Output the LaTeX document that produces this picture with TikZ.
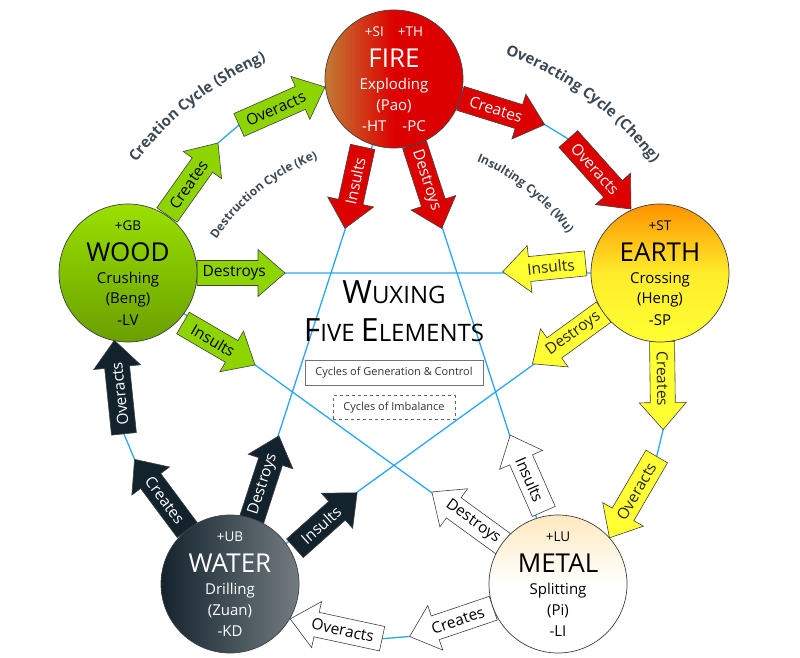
\documentclass[tikz,border=0pt]{standalone}
\usepackage{fontspec}
\setmainfont{Open Sans}
\usetikzlibrary{calc,decorations.text}
\definecolor{blu}{HTML}{2AA6F5}
\definecolor{lab}{HTML}{3B4A55}
\definecolor{woodc}{HTML}{8ED400}
\definecolor{firec}{HTML}{DD0000}
\definecolor{earthc}{HTML}{FFFF33}
\definecolor{waterc}{HTML}{13232D}
\newcommand\barrow[5]{%
  \coordinate (hh) at ($#3!27pt!#2$);
  \draw[#1] ($#2!12.5pt!90:#3$) -- ($(hh)!12.5pt!90:#3$) -- ($(hh)!23.5pt!90:#3$) -- #3
    -- ($(hh)!23.5pt!-90:#3$) -- ($(hh)!12.5pt!-90:#3$) -- ($#2!12.5pt!-90:#3$) -- cycle;
  \path #2 -- ($(hh)!0.5!#3$) node[midway,sloped,allow upside down,arrlab,#4]{#5};}
\newcommand\rc[3]{\coordinate (#1) at ($(O)!1!#2:#3$);}
\newcommand\elemarrows[6]{%
  \rc{c1}{#1}{(167,-215)}\rc{c2}{#1}{(218,-143)}%
  \rc{c3}{#1}{(239,-125)}\rc{c4}{#1}{(325,-87)}%
  \rc{c5}{#1}{(197,-273)}\rc{c6}{#1}{(285,-273)}%
  \rc{c7}{#1}{(183,-323)}\rc{c8}{#1}{(255,-365)}%
  \barrow{#2A}{(c1)}{(c2)}{#2T,#3}{Creates}
  \barrow{#2A}{(c3)}{(c4)}{#2T,#4}{Overacts}
  \barrow{#2A}{(c5)}{(c6)}{#2T,#5}{Destroys}
  \barrow{#2A}{(c7)}{(c8)}{#2T,#6}{Insults}}
\newcommand\linkseg[1]{\rc{l1}{#1}{(218,-143)}\rc{l2}{#1}{(239,-125)}\draw[bl] (l1) -- (l2);}
\tikzset{
 bl/.style={draw=blu,line width=1.3pt},
 arrlab/.style={font=\fontsize{15.5}{17}\selectfont,inner sep=0pt},
 woodA/.style={fill=woodc,draw=black!75,line width=0.6pt},
 fireA/.style={fill=firec,draw=black!75,line width=0.6pt},
 earthA/.style={fill=earthc,draw=black!75,line width=0.6pt},
 metalA/.style={fill=white,draw=black!75,line width=0.6pt},
 waterA/.style={fill=waterc,draw=black!75,line width=0.6pt},
 woodT/.style={text=black}, fireT/.style={text=white}, earthT/.style={text=black!85},
 metalT/.style={text=black}, waterT/.style={text=white},
 elem/.style={circle,minimum size=138pt,draw=black!75,line width=0.7pt,inner sep=0pt},
 small/.style={font=\fontsize{13.5}{15}\selectfont,inner sep=0pt},
 mid/.style={font=\fontsize{15}{17}\selectfont,inner sep=0pt},
 big/.style={font=\fontsize{26}{28}\selectfont,inner sep=0pt},
 cyc/.style={decorate,decoration={text along path,text align=center,text color=lab}},
 fl/.style={rotate=180}
}
\newcommand\etext[8]{%
 \node[small,#8] (#1a) at ($(#2)+(0,47)$) {#3};
 \node[big,#8] (#1b) at ($(#2)+(0,21)$) {#4};
 \node[mid,#8] (#1c) at ($(#2)+(0,-7)$) {#5};
 \node[mid,#8] (#1d) at ($(#2)+(0,-27)$) {#6};
 \node[mid,#8] (#1e) at ($(#2)+(0,-47)$) {#7};}
\begin{document}
\begin{tikzpicture}[x=1pt,y=1pt]
\useasboundingbox (0,0) rectangle (800,-658);
\coordinate (O) at (394,-358.6);
\coordinate (F) at (394,-79);
\coordinate (W) at (128,-273);
\coordinate (E) at (660,-273);
\coordinate (Wa) at (230,-584);
\coordinate (M) at (558,-584);
% star
\draw[bl] (W) -- (E) (E) -- (Wa) (Wa) -- (F) (F) -- (M) (M) -- (W);
\foreach \a in {0,-72,-144,-216,-288} {\linkseg{\a}}
% arrows
\elemarrows{0}{wood}{}{}{}{}
\elemarrows{-72}{fire}{}{}{}{fl}
\elemarrows{-144}{earth}{}{fl}{fl}{fl}
\elemarrows{-216}{metal}{fl}{fl}{fl}{fl}
\elemarrows{-288}{water}{fl}{}{}{}
% circles
\node[elem,top color=woodc!90!green!80!yellow,bottom color=woodc!75!black] (wood) at (W) {};
\node[elem,left color=orange!70!black!80,right color=firec,middle color=firec] (fire) at (F) {};
\node[elem,shading angle=135,top color=orange!85!yellow,bottom color=earthc,middle color=earthc!85!orange] (earth) at (E) {};
\node[elem,shading angle=-135,top color=yellow!30!orange!25,bottom color=white,middle color=white] (metal) at (M) {};
\node[elem,left color=waterc,middle color=waterc,right color=waterc!60!white!90!gray] (water) at (Wa) {};
\etext{wo}{W}{+GB}{WOOD}{Crushing}{(Beng)}{-LV}{text=black}
\etext{fi}{F}{+SI\hspace{14pt}+TH}{FIRE}{Exploding}{(Pao)}{-HT\hspace{16pt}-PC}{text=white}
\etext{ea}{E}{+ST}{EARTH}{Crossing}{(Heng)}{-SP}{text=black}
\etext{me}{M}{+LU}{METAL}{Splitting}{(Pi)}{-LI}{text=black}
\etext{wa}{Wa}{+UB}{WATER}{Drilling}{(Zuan)}{-KD}{text=white}
% title
\node[inner sep=0pt] (t1) at (394,-292) {\fontsize{32}{34}\selectfont W\fontsize{24}{26}\selectfont UXING};
\node[inner sep=0pt] (t2) at (394,-330) {\fontsize{32}{34}\selectfont F\fontsize{24}{26}\selectfont IVE \fontsize{32}{34}\selectfont E\fontsize{24}{26}\selectfont LEMENTS};
\node[draw=black!55,fill=white,line width=0.8pt,minimum width=178pt,minimum height=25pt,font=\fontsize{11}{13}\selectfont,text=black!80] (b1) at (394,-372.5) {Cycles of Generation \& Control};
\node[draw=black!60,dashed,fill=white,line width=0.7pt,minimum width=122pt,minimum height=24pt,font=\fontsize{11}{13}\selectfont,text=black!80] (b2) at (394,-407.5) {Cycles of Imbalance};
% cycle labels
\path[cyc,decoration={text={|\fontsize{15}{17}\bfseries\selectfont|Creation Cycle (Sheng)}}] ($(O)+(150:324)$) arc[start angle=150,end angle=106,radius=324];
\path[cyc,decoration={text={|\fontsize{15}{17}\bfseries\selectfont|Overacting Cycle (Cheng)}}] ($(O)+(78:324)$) arc[start angle=78,end angle=29,radius=324];
\path[cyc,decoration={text={|\fontsize{12}{14}\bfseries\selectfont|Destruction Cycle (Ke)}}] ($(O)+(151:214)$) arc[start angle=151,end angle=106,radius=214];
\path[cyc,decoration={text={|\fontsize{12}{14}\bfseries\selectfont|Insulting Cycle (Wu)}}] ($(O)+(74:214)$) arc[start angle=74,end angle=29,radius=214];
\end{tikzpicture}
\end{document}
